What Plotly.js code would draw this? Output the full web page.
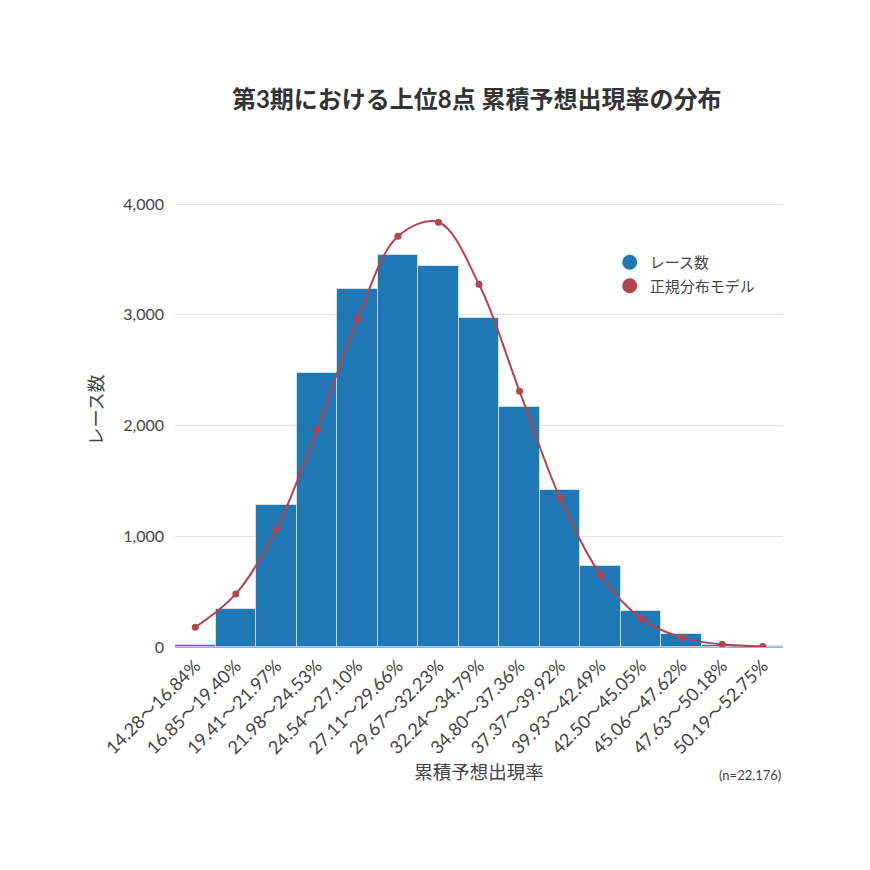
<!DOCTYPE html>
<html>
<head>
<meta charset="utf-8">
<script src="https://cdn.plot.ly/plotly-3.0.1.min.js"></script>
<style>html,body{margin:0;padding:0;background:#fff;}#chart{width:870px;height:870px;}</style>
</head>
<body>
<div id="chart"></div>
<script>
const categories = ["14.28～16.84%","16.85～19.40%","19.41～21.97%","21.98～24.53%","24.54～27.10%","27.11～29.66%","29.67～32.23%","32.24～34.79%","34.80～37.36%","37.37～39.92%","39.93～42.49%","42.50～45.05%","45.06～47.62%","47.63～50.18%","50.19～52.75%"];
const raceCounts = [22, 343, 1283, 2473, 3232, 3539, 3437, 2970, 2166, 1422, 735, 325, 115, 20, 5];
const normalModel = [178, 479, 1063, 1961, 2961, 3708, 3835, 3275, 2310, 1344, 651, 256, 85, 24, 4];
const yTickVals = [0, 1000, 2000, 3000, 4000];

const FONT = "Lato, 'Noto Sans CJK JP', sans-serif";
const BLUE = "#1f77b4";
const RED = "#b5424f";

const traces = [
  {
    type: "bar", x: categories, y: raceCounts, name: "レース数",
    marker: {color: BLUE, line: {color: "rgba(255,255,255,0.55)", width: 1}},
    showlegend: false, hoverinfo: "x+y"
  },
  {
    type: "scatter", mode: "lines+markers", x: categories, y: normalModel, name: "正規分布モデル",
    line: {color: RED, width: 2, shape: "spline", smoothing: 1},
    marker: {color: RED, size: 7},
    showlegend: false
  },
  {
    type: "scatter", mode: "markers", x: [null], y: [null], name: "レース数",
    marker: {color: BLUE, size: 15}, legendgroup: "a"
  },
  {
    type: "scatter", mode: "markers", x: [null], y: [null], name: "正規分布モデル",
    marker: {color: RED, size: 15}, legendgroup: "b"
  }
];

const layout = {
  width: 870, height: 870,
  margin: {l: 175, r: 87, t: 173, b: 223},
  paper_bgcolor: "#fff", plot_bgcolor: "#fff",
  font: {family: FONT, color: "#444"},
  title: {
    text: "<b>第3期における上位8点 累積予想出現率の分布</b>",
    font: {family: FONT, size: 24, color: "#333"},
    x: 0.548, xanchor: "center", y: 0.885, yanchor: "middle"
  },
  bargap: 0,
  xaxis: {
    type: "category",
    categoryorder: "array", categoryarray: categories,
    range: [-0.5, categories.length - 0.5],
    tickangle: -45,
    tickfont: {size: 18, color: "#444"},
    ticklabelstandoff: 4,
    showgrid: false, zeroline: false,
    showline: false,
    ticks: "",
    title: {text: "累積予想出現率", font: {size: 18.5, color: "#444"}, standoff: 8}
  },
  yaxis: {
    range: [0, 4280],
    tickvals: yTickVals,
    tickformat: ",",
    tickfont: {size: 16, color: "#444"},
    ticklabelstandoff: 10,
    gridcolor: "#e2e2e2", gridwidth: 1,
    zeroline: true, zerolinecolor: "#8fb3d2", zerolinewidth: 2,
    ticks: "", ticklen: 0,
    title: {text: "レース数", font: {size: 18, color: "#444"}, standoff: 14}
  },
  legend: {
    x: 0.715, y: 0.846, xanchor: "left", yanchor: "top",
    font: {size: 15, color: "#444"},
    bgcolor: "rgba(0,0,0,0)",
    traceorder: "grouped", tracegroupgap: 1,
    itemsizing: "trace"
  },
  showlegend: true,
  annotations: [{
    text: "(n=22,176)", xref: "paper", yref: "paper",
    x: 1, y: -0.27, xanchor: "right", yanchor: "middle",
    showarrow: false, font: {size: 13, color: "#444"}
  }]
};

Plotly.newPlot("chart", traces, layout, {displayModeBar: false, responsive: false});
</script>
</body>
</html>
